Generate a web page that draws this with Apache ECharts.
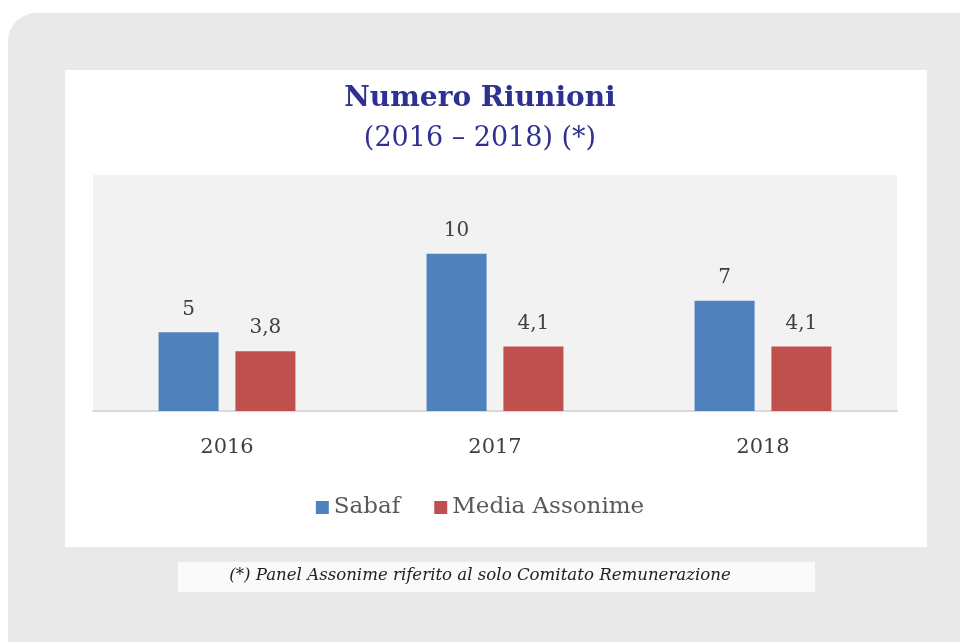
<!DOCTYPE html>
<html>
<head>
<meta charset="utf-8">
<script src="https://cdn.jsdelivr.net/npm/echarts@6/dist/echarts.min.js"></script>
<style>
  html, body { margin: 0; padding: 0; background: #ffffff; }
  #chart { width: 960px; height: 642px; }
</style>
</head>
<body>
<div id="chart"></div>
<script>
// dati
const years = ['2016', '2017', '2018'];
const sabaf = [5, 10, 7];
const mediaAssonime = [3.8, 4.1, 4.1];
const seriesNames = ['Sabaf', 'Media Assonime'];

const serif = "'DejaVu Serif', 'Liberation Serif', serif";
const labelFmt = p => String(p.value).replace('.', ',');

const chart = echarts.init(document.getElementById('chart'));

const option = {
  backgroundColor: '#ffffff',
  animation: false,
  graphic: [
    // riquadro grigio esterno
    { type: 'rect', z: -10, shape: { x: 8, y: 13, width: 990, height: 700, r: 28 }, style: { fill: '#e9e9e9' } },
    // pannello bianco
    { type: 'rect', z: -9, shape: { x: 65, y: 70, width: 862, height: 477 }, style: { fill: '#ffffff' } },
    // nota
    { type: 'rect', z: -9, shape: { x: 178, y: 562, width: 637, height: 30 }, style: { fill: '#fafafa' } },
    {
      type: 'text', left: 'center', top: 567,
      style: {
        text: '(*) Panel Assonime riferito al solo Comitato Remunerazione',
        font: "italic 16.6px 'DejaVu Serif', serif",
        fill: '#222222'
      }
    }
  ],
  title: {
    text: 'Numero Riunioni',
    subtext: '(2016 – 2018) (*)',
    left: 'center',
    top: 80,
    itemGap: 12,
    textStyle: { fontFamily: serif, fontWeight: 'bold', fontSize: 28, color: '#2e3192' },
    subtextStyle: { fontFamily: serif, fontSize: 27, color: '#2e3192' }
  },
  legend: {
    data: seriesNames,
    top: 491,
    left: 'center',
    icon: 'rect',
    itemWidth: 13,
    itemHeight: 13,
    itemGap: 34,
    textStyle: { fontFamily: serif, fontSize: 23, color: '#595959' }
  },
  grid: {
    left: 93,
    right: 63,
    top: 175,
    bottom: 231,
    show: true,
    backgroundColor: '#f2f2f2',
    borderWidth: 0
  },
  xAxis: {
    type: 'category',
    data: years,
    axisLine: { lineStyle: { color: '#d9d9d9', width: 2 } },
    axisTick: { show: false },
    axisLabel: { margin: 26, fontFamily: serif, fontSize: 21, color: '#404040' }
  },
  yAxis: {
    type: 'value',
    min: 0,
    max: 15,
    show: false,
    splitLine: { show: false }
  },
  series: [
    {
      name: seriesNames[0],
      type: 'bar',
      data: sabaf,
      barWidth: '22.4%',
      barGap: '28%',
      itemStyle: { color: '#4f81bd' },
      label: { show: true, position: 'top', distance: 13, formatter: labelFmt, fontFamily: serif, fontSize: 20, color: '#404040' }
    },
    {
      name: seriesNames[1],
      type: 'bar',
      data: mediaAssonime,
      barWidth: '22.4%',
      itemStyle: { color: '#c0504d' },
      label: { show: true, position: 'top', distance: 13, formatter: labelFmt, fontFamily: serif, fontSize: 20, color: '#404040' }
    }
  ]
};

chart.setOption(option);
</script>
</body>
</html>
